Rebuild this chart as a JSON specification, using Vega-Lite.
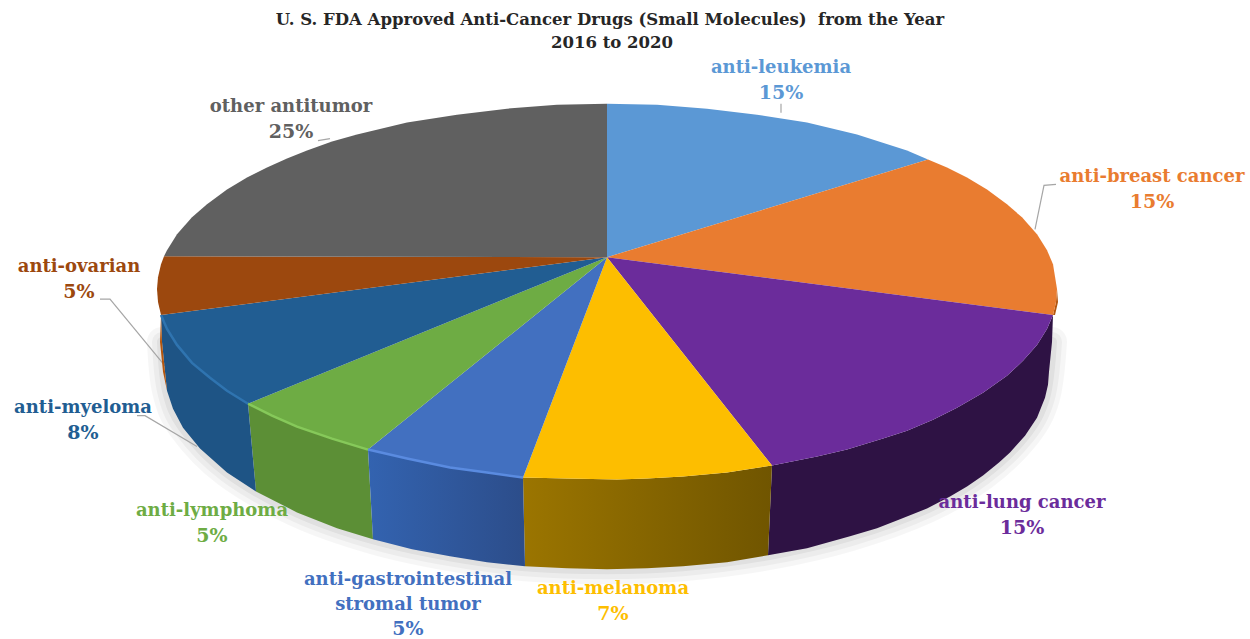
{
  "$schema": "https://vega.github.io/schema/vega-lite/v6.json",
  "width": 1250,
  "height": 639,
  "autosize": {"type": "fit", "contains": "padding"},
  "padding": 0,
  "background": "white",
  "config": {"view": {"stroke": null}},
  "resolve": {"scale": {"fill": "independent", "stroke": "independent"}},
  "datasets": {
    "top": [
      {"slice":"anti-leukemia","i":0,"x":0,"y":0},
      {"slice":"anti-leukemia","i":1,"x":0,"y":154},
      {"slice":"anti-leukemia","i":2,"x":50,"y":153},
      {"slice":"anti-leukemia","i":3,"x":100,"y":149},
      {"slice":"anti-leukemia","i":4,"x":150,"y":143},
      {"slice":"anti-leukemia","i":5,"x":200,"y":135},
      {"slice":"anti-leukemia","i":6,"x":250,"y":123},
      {"slice":"anti-leukemia","i":7,"x":300,"y":107},
      {"slice":"anti-leukemia","i":8,"x":321,"y":98},
      {"slice":"anti-breast cancer","i":0,"x":0,"y":0},
      {"slice":"anti-breast cancer","i":1,"x":321,"y":98},
      {"slice":"anti-breast cancer","i":2,"x":340,"y":90},
      {"slice":"anti-breast cancer","i":3,"x":360,"y":80},
      {"slice":"anti-breast cancer","i":4,"x":380,"y":68},
      {"slice":"anti-breast cancer","i":5,"x":400,"y":53},
      {"slice":"anti-breast cancer","i":6,"x":415,"y":40},
      {"slice":"anti-breast cancer","i":7,"x":430,"y":23},
      {"slice":"anti-breast cancer","i":8,"x":440,"y":7},
      {"slice":"anti-breast cancer","i":9,"x":446,"y":-7},
      {"slice":"anti-breast cancer","i":10,"x":450,"y":-32},
      {"slice":"anti-breast cancer","i":11,"x":449,"y":-45},
      {"slice":"anti-breast cancer","i":12,"x":446,"y":-58},
      {"slice":"anti-lung cancer","i":0,"x":0,"y":0},
      {"slice":"anti-lung cancer","i":1,"x":446,"y":-58},
      {"slice":"anti-lung cancer","i":2,"x":440,"y":-72},
      {"slice":"anti-lung cancer","i":3,"x":430,"y":-88},
      {"slice":"anti-lung cancer","i":4,"x":416,"y":-104},
      {"slice":"anti-lung cancer","i":5,"x":400,"y":-119},
      {"slice":"anti-lung cancer","i":6,"x":376,"y":-136},
      {"slice":"anti-lung cancer","i":7,"x":350,"y":-151},
      {"slice":"anti-lung cancer","i":8,"x":326,"y":-163},
      {"slice":"anti-lung cancer","i":9,"x":300,"y":-174},
      {"slice":"anti-lung cancer","i":10,"x":276,"y":-182},
      {"slice":"anti-lung cancer","i":11,"x":240,"y":-193},
      {"slice":"anti-lung cancer","i":12,"x":210,"y":-200},
      {"slice":"anti-lung cancer","i":13,"x":165,"y":-209},
      {"slice":"anti-melanoma","i":0,"x":0,"y":0},
      {"slice":"anti-melanoma","i":1,"x":165,"y":-209},
      {"slice":"anti-melanoma","i":2,"x":120,"y":-216},
      {"slice":"anti-melanoma","i":3,"x":76,"y":-220},
      {"slice":"anti-melanoma","i":4,"x":40,"y":-222},
      {"slice":"anti-melanoma","i":5,"x":10,"y":-223},
      {"slice":"anti-melanoma","i":6,"x":-40,"y":-222},
      {"slice":"anti-melanoma","i":7,"x":-84,"y":-221},
      {"slice":"anti-gastrointestinal","i":0,"x":0,"y":0},
      {"slice":"anti-gastrointestinal","i":1,"x":-84,"y":-221},
      {"slice":"anti-gastrointestinal","i":2,"x":-120,"y":-216},
      {"slice":"anti-gastrointestinal","i":3,"x":-157,"y":-211},
      {"slice":"anti-gastrointestinal","i":4,"x":-200,"y":-202},
      {"slice":"anti-gastrointestinal","i":5,"x":-239,"y":-193},
      {"slice":"anti-lymphoma","i":0,"x":0,"y":0},
      {"slice":"anti-lymphoma","i":1,"x":-239,"y":-193},
      {"slice":"anti-lymphoma","i":2,"x":-275,"y":-182},
      {"slice":"anti-lymphoma","i":3,"x":-310,"y":-170},
      {"slice":"anti-lymphoma","i":4,"x":-335,"y":-159},
      {"slice":"anti-lymphoma","i":5,"x":-359,"y":-147},
      {"slice":"anti-myeloma","i":0,"x":0,"y":0},
      {"slice":"anti-myeloma","i":1,"x":-359,"y":-147},
      {"slice":"anti-myeloma","i":2,"x":-380,"y":-134},
      {"slice":"anti-myeloma","i":3,"x":-397,"y":-121},
      {"slice":"anti-myeloma","i":4,"x":-415,"y":-106},
      {"slice":"anti-myeloma","i":5,"x":-430,"y":-88},
      {"slice":"anti-myeloma","i":6,"x":-440,"y":-72},
      {"slice":"anti-myeloma","i":7,"x":-446,"y":-58},
      {"slice":"anti-ovarian","i":0,"x":0,"y":0},
      {"slice":"anti-ovarian","i":1,"x":-446,"y":-58},
      {"slice":"anti-ovarian","i":2,"x":-449,"y":-45},
      {"slice":"anti-ovarian","i":3,"x":-450,"y":-32},
      {"slice":"anti-ovarian","i":4,"x":-449,"y":-20},
      {"slice":"anti-ovarian","i":5,"x":-446,"y":-7},
      {"slice":"anti-ovarian","i":6,"x":-443,"y":1},
      {"slice":"other antitumor","i":0,"x":0,"y":0},
      {"slice":"other antitumor","i":1,"x":-443,"y":1},
      {"slice":"other antitumor","i":2,"x":-440,"y":7},
      {"slice":"other antitumor","i":3,"x":-430,"y":23},
      {"slice":"other antitumor","i":4,"x":-415,"y":40},
      {"slice":"other antitumor","i":5,"x":-400,"y":53},
      {"slice":"other antitumor","i":6,"x":-380,"y":68},
      {"slice":"other antitumor","i":7,"x":-360,"y":80},
      {"slice":"other antitumor","i":8,"x":-340,"y":90},
      {"slice":"other antitumor","i":9,"x":-320,"y":99},
      {"slice":"other antitumor","i":10,"x":-300,"y":107},
      {"slice":"other antitumor","i":11,"x":-275,"y":116},
      {"slice":"other antitumor","i":12,"x":-250,"y":123},
      {"slice":"other antitumor","i":13,"x":-225,"y":129},
      {"slice":"other antitumor","i":14,"x":-200,"y":135},
      {"slice":"other antitumor","i":15,"x":-150,"y":143},
      {"slice":"other antitumor","i":16,"x":-100,"y":149},
      {"slice":"other antitumor","i":17,"x":-50,"y":153},
      {"slice":"other antitumor","i":18,"x":0,"y":154}
    ],
    "wall": [
      {"slice":"anti-breast cancer","i":0,"x":450,"y":-32},
      {"slice":"anti-breast cancer","i":1,"x":449,"y":-45},
      {"slice":"anti-breast cancer","i":2,"x":446,"y":-58},
      {"slice":"anti-breast cancer","i":3,"x":448,"y":-58},
      {"slice":"anti-breast cancer","i":4,"x":451,"y":-45},
      {"slice":"anti-lung cancer","i":0,"x":446,"y":-58},
      {"slice":"anti-lung cancer","i":1,"x":440,"y":-72},
      {"slice":"anti-lung cancer","i":2,"x":430,"y":-88},
      {"slice":"anti-lung cancer","i":3,"x":416,"y":-104},
      {"slice":"anti-lung cancer","i":4,"x":400,"y":-119},
      {"slice":"anti-lung cancer","i":5,"x":376,"y":-136},
      {"slice":"anti-lung cancer","i":6,"x":350,"y":-151},
      {"slice":"anti-lung cancer","i":7,"x":326,"y":-163},
      {"slice":"anti-lung cancer","i":8,"x":300,"y":-174},
      {"slice":"anti-lung cancer","i":9,"x":276,"y":-182},
      {"slice":"anti-lung cancer","i":10,"x":240,"y":-193},
      {"slice":"anti-lung cancer","i":11,"x":210,"y":-200},
      {"slice":"anti-lung cancer","i":12,"x":165,"y":-209},
      {"slice":"anti-lung cancer","i":13,"x":161,"y":-299},
      {"slice":"anti-lung cancer","i":14,"x":200,"y":-292},
      {"slice":"anti-lung cancer","i":15,"x":243,"y":-280},
      {"slice":"anti-lung cancer","i":16,"x":270,"y":-272},
      {"slice":"anti-lung cancer","i":17,"x":293,"y":-263},
      {"slice":"anti-lung cancer","i":18,"x":320,"y":-252},
      {"slice":"anti-lung cancer","i":19,"x":343,"y":-240},
      {"slice":"anti-lung cancer","i":20,"x":360,"y":-230},
      {"slice":"anti-lung cancer","i":21,"x":376,"y":-219},
      {"slice":"anti-lung cancer","i":22,"x":392,"y":-206},
      {"slice":"anti-lung cancer","i":23,"x":403,"y":-196},
      {"slice":"anti-lung cancer","i":24,"x":418,"y":-179},
      {"slice":"anti-lung cancer","i":25,"x":430,"y":-161},
      {"slice":"anti-lung cancer","i":26,"x":438,"y":-141},
      {"slice":"anti-lung cancer","i":27,"x":441,"y":-128},
      {"slice":"anti-lung cancer","i":28,"x":442,"y":-115},
      {"slice":"anti-lung cancer","i":29,"x":445,"y":-85},
      {"slice":"anti-melanoma","i":0,"x":165,"y":-209},
      {"slice":"anti-melanoma","i":1,"x":120,"y":-216},
      {"slice":"anti-melanoma","i":2,"x":76,"y":-220},
      {"slice":"anti-melanoma","i":3,"x":40,"y":-222},
      {"slice":"anti-melanoma","i":4,"x":10,"y":-223},
      {"slice":"anti-melanoma","i":5,"x":-40,"y":-222},
      {"slice":"anti-melanoma","i":6,"x":-84,"y":-221},
      {"slice":"anti-melanoma","i":7,"x":-82,"y":-310},
      {"slice":"anti-melanoma","i":8,"x":-40,"y":-312},
      {"slice":"anti-melanoma","i":9,"x":0,"y":-313},
      {"slice":"anti-melanoma","i":10,"x":40,"y":-312},
      {"slice":"anti-melanoma","i":11,"x":76,"y":-310},
      {"slice":"anti-melanoma","i":12,"x":120,"y":-306},
      {"slice":"anti-melanoma","i":13,"x":161,"y":-299},
      {"slice":"anti-gastrointestinal","i":0,"x":-84,"y":-221},
      {"slice":"anti-gastrointestinal","i":1,"x":-120,"y":-216},
      {"slice":"anti-gastrointestinal","i":2,"x":-157,"y":-211},
      {"slice":"anti-gastrointestinal","i":3,"x":-200,"y":-202},
      {"slice":"anti-gastrointestinal","i":4,"x":-239,"y":-193},
      {"slice":"anti-gastrointestinal","i":5,"x":-234,"y":-283},
      {"slice":"anti-gastrointestinal","i":6,"x":-195,"y":-293},
      {"slice":"anti-gastrointestinal","i":7,"x":-157,"y":-300},
      {"slice":"anti-gastrointestinal","i":8,"x":-120,"y":-306},
      {"slice":"anti-gastrointestinal","i":9,"x":-82,"y":-310},
      {"slice":"anti-lymphoma","i":0,"x":-239,"y":-193},
      {"slice":"anti-lymphoma","i":1,"x":-275,"y":-182},
      {"slice":"anti-lymphoma","i":2,"x":-310,"y":-170},
      {"slice":"anti-lymphoma","i":3,"x":-335,"y":-159},
      {"slice":"anti-lymphoma","i":4,"x":-359,"y":-147},
      {"slice":"anti-lymphoma","i":5,"x":-351,"y":-235},
      {"slice":"anti-lymphoma","i":6,"x":-310,"y":-256},
      {"slice":"anti-lymphoma","i":7,"x":-270,"y":-272},
      {"slice":"anti-lymphoma","i":8,"x":-234,"y":-283},
      {"slice":"anti-myeloma","i":0,"x":-359,"y":-147},
      {"slice":"anti-myeloma","i":1,"x":-380,"y":-134},
      {"slice":"anti-myeloma","i":2,"x":-397,"y":-121},
      {"slice":"anti-myeloma","i":3,"x":-415,"y":-106},
      {"slice":"anti-myeloma","i":4,"x":-430,"y":-88},
      {"slice":"anti-myeloma","i":5,"x":-440,"y":-72},
      {"slice":"anti-myeloma","i":6,"x":-446,"y":-58},
      {"slice":"anti-myeloma","i":7,"x":-445,"y":-85},
      {"slice":"anti-myeloma","i":8,"x":-442,"y":-115},
      {"slice":"anti-myeloma","i":9,"x":-440,"y":-134},
      {"slice":"anti-myeloma","i":10,"x":-434,"y":-152},
      {"slice":"anti-myeloma","i":11,"x":-424,"y":-171},
      {"slice":"anti-myeloma","i":12,"x":-407,"y":-192},
      {"slice":"anti-myeloma","i":13,"x":-380,"y":-216},
      {"slice":"anti-myeloma","i":14,"x":-351,"y":-235},
      {"slice":"anti-ovarian","i":0,"x":-446,"y":-58},
      {"slice":"anti-ovarian","i":1,"x":-447,"y":-85},
      {"slice":"anti-ovarian","i":2,"x":-444,"y":-115},
      {"slice":"anti-ovarian","i":3,"x":-440,"y":-134},
      {"slice":"anti-ovarian","i":4,"x":-442,"y":-115},
      {"slice":"anti-ovarian","i":5,"x":-445,"y":-85}
    ],
    "rimLight": [
      {"slice":"anti-gastrointestinal","i":0,"x":-84,"y":-221},
      {"slice":"anti-gastrointestinal","i":1,"x":-120,"y":-216},
      {"slice":"anti-gastrointestinal","i":2,"x":-157,"y":-211},
      {"slice":"anti-gastrointestinal","i":3,"x":-200,"y":-202},
      {"slice":"anti-gastrointestinal","i":4,"x":-239,"y":-193},
      {"slice":"anti-lymphoma","i":0,"x":-239,"y":-193},
      {"slice":"anti-lymphoma","i":1,"x":-275,"y":-182},
      {"slice":"anti-lymphoma","i":2,"x":-310,"y":-170},
      {"slice":"anti-lymphoma","i":3,"x":-335,"y":-159},
      {"slice":"anti-lymphoma","i":4,"x":-359,"y":-147},
      {"slice":"anti-myeloma","i":0,"x":-359,"y":-147},
      {"slice":"anti-myeloma","i":1,"x":-380,"y":-134},
      {"slice":"anti-myeloma","i":2,"x":-397,"y":-121},
      {"slice":"anti-myeloma","i":3,"x":-415,"y":-106},
      {"slice":"anti-myeloma","i":4,"x":-430,"y":-88},
      {"slice":"anti-myeloma","i":5,"x":-440,"y":-72},
      {"slice":"anti-myeloma","i":6,"x":-446,"y":-58}
    ],
    "shadow": [
      {"i":0,"x":-445,"y":-85},
      {"i":1,"x":-440,"y":-134},
      {"i":2,"x":-424,"y":-171},
      {"i":3,"x":-380,"y":-216},
      {"i":4,"x":-310,"y":-256},
      {"i":5,"x":-234,"y":-283},
      {"i":6,"x":-157,"y":-300},
      {"i":7,"x":-82,"y":-310},
      {"i":8,"x":0,"y":-313},
      {"i":9,"x":76,"y":-310},
      {"i":10,"x":161,"y":-299},
      {"i":11,"x":243,"y":-280},
      {"i":12,"x":320,"y":-252},
      {"i":13,"x":376,"y":-219},
      {"i":14,"x":418,"y":-179},
      {"i":15,"x":438,"y":-141},
      {"i":16,"x":445,"y":-85}
    ],
    "leaders": [
      {"slice":"anti-leukemia","i":0,"x":174,"y":154},
      {"slice":"anti-leukemia","i":1,"x":174,"y":145},
      {"slice":"anti-breast cancer","i":0,"x":449,"y":73},
      {"slice":"anti-breast cancer","i":1,"x":437,"y":72},
      {"slice":"anti-breast cancer","i":2,"x":428,"y":28},
      {"slice":"other antitumor","i":0,"x":-289,"y":117},
      {"slice":"other antitumor","i":1,"x":-277,"y":119},
      {"slice":"anti-ovarian","i":0,"x":-507,"y":-42},
      {"slice":"anti-ovarian","i":1,"x":-497,"y":-42},
      {"slice":"anti-ovarian","i":2,"x":-442,"y":-109},
      {"slice":"anti-myeloma","i":0,"x":-470,"y":-159},
      {"slice":"anti-myeloma","i":1,"x":-462,"y":-159},
      {"slice":"anti-myeloma","i":2,"x":-410,"y":-190}
    ],
    "labels": [
      {"slice":"anti-leukemia","name":"anti-leukemia","share":0.15,"x":174,"nameY":190,"shareY":165},
      {"slice":"anti-breast cancer","name":"anti-breast cancer","share":0.15,"x":545,"nameY":80,"shareY":55},
      {"slice":"anti-lung cancer","name":"anti-lung cancer","share":0.15,"x":415,"nameY":-247,"shareY":-272},
      {"slice":"anti-melanoma","name":"anti-melanoma","share":0.07,"x":6,"nameY":-333,"shareY":-358},
      {"slice":"anti-gastrointestinal","name":"anti-gastrointestinal\nstromal tumor","share":0.05,"x":-199,"nameY":-324,"shareY":-373},
      {"slice":"anti-lymphoma","name":"anti-lymphoma","share":0.05,"x":-395,"nameY":-255,"shareY":-280},
      {"slice":"anti-myeloma","name":"anti-myeloma","share":0.08,"x":-524,"nameY":-151,"shareY":-176},
      {"slice":"anti-ovarian","name":"anti-ovarian","share":0.05,"x":-528,"nameY":-10,"shareY":-35},
      {"slice":"other antitumor","name":"other antitumor","share":0.25,"x":-316,"nameY":151,"shareY":126}
    ],
    "heading": [
      {"line":"U. S. FDA Approved Anti-Cancer Drugs (Small Molecules)\u00a0 from the Year","x":3,"y":238},
      {"line":"2016 to 2020","x":5,"y":215}
    ]
  },
  "encoding": {
    "x": {"field":"x","type":"quantitative","axis":null,"scale":{"domain":[-607,643],"nice":false,"zero":false}},
    "y": {"field":"y","type":"quantitative","axis":null,"scale":{"domain":[-381,258],"nice":false,"zero":false}}
  },
  "layer": [
    {"data":{"name":"shadow"},"mark":{"type":"line","interpolate":"cardinal","stroke":"#000","strokeOpacity":0.035,"strokeWidth":30,"strokeCap":"round"},"encoding":{"order":{"field":"i"}}},
    {"data":{"name":"shadow"},"mark":{"type":"line","interpolate":"cardinal","stroke":"#000","strokeOpacity":0.04,"strokeWidth":20,"strokeCap":"round"},"encoding":{"order":{"field":"i"}}},
    {"data":{"name":"shadow"},"mark":{"type":"line","interpolate":"cardinal","stroke":"#000","strokeOpacity":0.05,"strokeWidth":10,"strokeCap":"round"},"encoding":{"order":{"field":"i"}}},
    {
      "data":{"name":"leaders"},
      "mark":{"type":"line","stroke":"#A6A6A6","strokeWidth":1.2},
      "encoding":{"detail":{"field":"slice"},"order":{"field":"i"}}
    },
    {
      "data":{"name":"wall"},
      "transform":[{"filter":"datum.slice !== 'anti-melanoma' && datum.slice !== 'anti-gastrointestinal'"}],
      "mark":{"type":"line","strokeWidth":0},
      "encoding":{
        "order":{"field":"i"},
        "fill":{"field":"slice","type":"nominal","legend":null,"scale":{
          "domain":["anti-breast cancer","anti-lung cancer","anti-lymphoma","anti-myeloma","anti-ovarian"],
          "range":["#B3560F","#2E1244","#5C8F36","#1E5485","#B3560F"]
        }}
      }
    },
    {
      "data":{"name":"wall"},
      "transform":[{"filter":"datum.slice === 'anti-melanoma'"}],
      "mark":{"type":"line","strokeWidth":0,"fill":{"gradient":"linear","x1":0,"x2":1,"y1":0,"y2":0,"stops":[{"offset":0,"color":"#9B7500"},{"offset":1,"color":"#705500"}]}},
      "encoding":{"order":{"field":"i"}}
    },
    {
      "data":{"name":"wall"},
      "transform":[{"filter":"datum.slice === 'anti-gastrointestinal'"}],
      "mark":{"type":"line","strokeWidth":0,"fill":{"gradient":"linear","x1":0,"x2":1,"y1":0,"y2":0,"stops":[{"offset":0,"color":"#3363B0"},{"offset":1,"color":"#2C4D8A"}]}},
      "encoding":{"order":{"field":"i"}}
    },
    {
      "data":{"name":"top"},
      "mark":{"type":"line","strokeWidth":0},
      "encoding":{
        "order":{"field":"i"},
        "fill":{"field":"slice","type":"nominal","legend":null,"scale":{"domain":["anti-leukemia","anti-breast cancer","anti-lung cancer","anti-melanoma","anti-gastrointestinal","anti-lymphoma","anti-myeloma","anti-ovarian","other antitumor"],"range":["#5B98D5","#E97C30","#6B2C9B","#FDBE00","#4270C0","#6EAC44","#215D92","#9C480E","#606060"]}}
      }
    },
    {
      "data":{"name":"rimLight"},
      "mark":{"type":"line","strokeWidth":2.5},
      "encoding":{
        "detail":{"field":"slice"},
        "order":{"field":"i"},
        "stroke":{"field":"slice","type":"nominal","legend":null,"scale":{"domain":["anti-gastrointestinal","anti-lymphoma","anti-myeloma"],"range":["#5A8BE0","#86C95A","#2F74B0"]}}
      }
    },
    {
      "data":{"name":"labels"},
      "mark":{"type":"text","font":"DejaVu Serif","fontWeight":"bold","fontSize":18,"align":"center","baseline":"middle","lineBreak":"\n","lineHeight":25},
      "encoding":{
        "y":{"field":"nameY","type":"quantitative"},
        "text":{"field":"name"},
        "fill":{"field":"slice","type":"nominal","legend":null,"scale":{"domain":["anti-leukemia","anti-breast cancer","anti-lung cancer","anti-melanoma","anti-gastrointestinal","anti-lymphoma","anti-myeloma","anti-ovarian","other antitumor"],"range":["#5B98D5","#E97C30","#6B2C9B","#FDBE00","#4270C0","#6EAC44","#215D92","#9C480E","#606060"]}}
      }
    },
    {
      "data":{"name":"labels"},
      "mark":{"type":"text","font":"DejaVu Serif","fontWeight":"bold","fontSize":19,"align":"center","baseline":"middle"},
      "encoding":{
        "y":{"field":"shareY","type":"quantitative"},
        "text":{"field":"share","type":"quantitative","format":".0%"},
        "fill":{"field":"slice","type":"nominal","legend":null,"scale":{"domain":["anti-leukemia","anti-breast cancer","anti-lung cancer","anti-melanoma","anti-gastrointestinal","anti-lymphoma","anti-myeloma","anti-ovarian","other antitumor"],"range":["#5B98D5","#E97C30","#6B2C9B","#FDBE00","#4270C0","#6EAC44","#215D92","#9C480E","#606060"]}}
      }
    },
    {
      "data":{"name":"heading"},
      "mark":{"type":"text","font":"DejaVu Serif","fontWeight":"bold","fontSize":16.5,"align":"center","baseline":"middle","fill":"#262626"},
      "encoding":{"text":{"field":"line"}}
    }
  ]
}
